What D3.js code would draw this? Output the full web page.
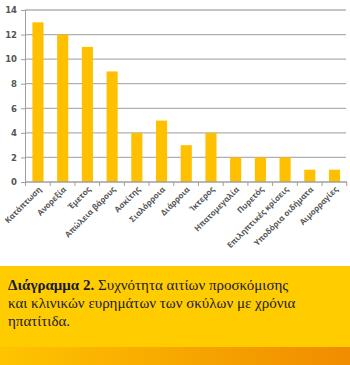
<!DOCTYPE html>
<html><head><meta charset="utf-8">
<script src="https://cdn.jsdelivr.net/npm/d3@7"></script>
<style>body{margin:0;background:#fff;}svg{display:block;}</style>
</head><body>
<script>
const categories = ["Κατάπτωση","Ανορεξία","Έμετος","Απώλεια βάρους","Ασκίτης","Σιαλόρροια","Διάρροια","Ίκτερος","Ηπατομεγαλία","Πυρετός","Επιληπτικές κρίσεις","Υποδόρια οιδήματα","Αιμορραγίες"];
const values = [13,12,11,9,4,5,3,4,2,2,2,1,1];
const yTicks = [0,2,4,6,8,10,12,14];
const captionBold = "Διάγραμμα 2.";
const captionLines = [" Συχνότητα αιτίων προσκόμισης","και κλινικών ευρημάτων των σκύλων με χρόνια","ηπατίτιδα."];

const W=350,H=365;
const svg=d3.select("body").append("svg").attr("width",W).attr("height",H);
const x=d3.scaleBand().domain(categories).range([25.5,347]).paddingInner(0.55).paddingOuter(0.28);
const y=d3.scaleLinear().domain([0,14]).range([182,10]);

// gridlines
svg.append("g").selectAll("line").data(yTicks.slice(1)).join("line")
 .attr("x1",25).attr("x2",346).attr("y1",d=>y(d)).attr("y2",d=>y(d))
 .attr("stroke","#b0b0b0").attr("stroke-width",1.3);

// bars
svg.append("g").selectAll("rect").data(values).join("rect")
 .attr("x",(d,i)=>x(categories[i])).attr("width",x.bandwidth())
 .attr("y",d=>y(d)).attr("height",d=>y(0)-y(d)).attr("fill","#FFC000");

// y axis
const ya=svg.append("g").attr("transform","translate(25,0)")
 .call(d3.axisLeft(y).tickValues(yTicks).tickSize(4).tickPadding(4));
ya.select(".domain").attr("stroke","#a0a0a0");
ya.selectAll(".tick line").attr("stroke","#a0a0a0");
ya.selectAll("text").attr("font-family","DejaVu Sans, sans-serif").attr("font-size",8.5).attr("font-weight","bold").attr("fill","#555");

// x axis
const step=x.step();
const xa=svg.append("g").attr("transform","translate(0,182)");
xa.append("line").attr("x1",25).attr("x2",347).attr("stroke","#a0a0a0").attr("stroke-width",1.3);
xa.selectAll("line.t").data(d3.range(categories.length+1)).join("line").attr("class","t")
 .attr("x1",i=>25.5+i*step).attr("x2",i=>25.5+i*step).attr("y1",0).attr("y2",4).attr("stroke","#a0a0a0");
xa.selectAll("text").data(categories).join("text")
 .attr("transform",d=>`translate(${x(d)+x.bandwidth()/2+4},8) rotate(-45)`)
 .attr("text-anchor","end").attr("font-family","Open Sans, sans-serif").attr("font-size",8)
 .attr("font-weight","bold").attr("fill","#555").text(d=>d);

// caption box
const defs=svg.append("defs");
const g=defs.append("linearGradient").attr("id","band");
g.append("stop").attr("offset","0%").attr("stop-color","#FFC400");
g.append("stop").attr("offset","100%").attr("stop-color","#F08C00");
svg.append("rect").attr("x",0).attr("y",266).attr("width",W).attr("height",81).attr("fill","#FFCC00");
svg.append("rect").attr("x",0).attr("y",347).attr("width",W).attr("height",18).attr("fill","url(#band)");

const cap=svg.append("g").attr("font-family","Liberation Serif, DejaVu Serif, serif").attr("font-size",15).attr("fill","#1a1a1a");
const t1=cap.append("text").attr("x",8).attr("y",290);
t1.append("tspan").attr("font-weight","bold").text(captionBold);
t1.append("tspan").text(captionLines[0]);
cap.append("text").attr("x",8).attr("y",308).text(captionLines[1]);
cap.append("text").attr("x",8).attr("y",326).text(captionLines[2]);
</script>
</body></html>
